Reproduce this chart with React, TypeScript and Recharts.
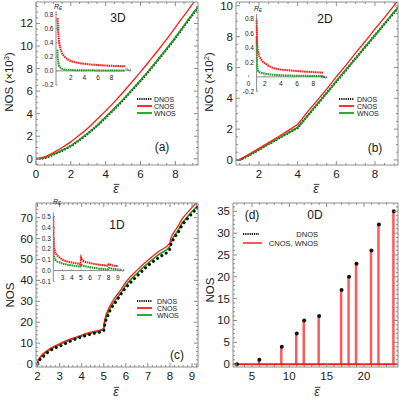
import React from "react";
import {
  ComposedChart,
  LineChart,
  Line,
  Bar,
  Scatter,
  XAxis,
  YAxis,
  ReferenceLine,
} from "recharts";

const FONT = "'Liberation Sans', Arial, Helvetica, sans-serif";
const FRAME = "#8c8c8c";
const INK = "#1a1a1a";
const RED = "#ff1a1a";
const GREEN = "#1e9e1e";
const STEM = "#ff5a5a";

// ---------- (a) 3D, NOS in units of 10^3 ----------
const eps3D = [0, 0.5, 1, 1.5, 2, 2.5, 3, 3.5, 4, 4.5, 5, 5.5, 6, 6.5, 7, 7.5, 8, 8.5, 9, 9.3];
const dnos3D = [0, 0.09, 0.38, 0.73, 1.13, 1.67, 2.27, 2.92, 3.66, 4.42, 5.21, 6.06, 6.91, 7.81, 8.76, 9.71, 10.71, 11.76, 12.81, 13.41];
const cnos3D = [0, 0.18, 0.55, 1.0, 1.5, 2.1, 2.75, 3.5, 4.25, 5.05, 5.9, 6.8, 7.7, 8.65, 9.6, 10.6, 11.65, 12.7, 13.75, 14.4];
const wnos3D = [0, 0.1, 0.4, 0.75, 1.15, 1.7, 2.3, 2.95, 3.7, 4.45, 5.25, 6.1, 6.95, 7.85, 8.8, 9.75, 10.75, 11.8, 12.85, 13.45];

// inset (a): relative error R_E
const epsR3D = [0.02, 0.05, 0.1, 0.2, 0.3, 0.5, 0.75, 1, 1.5, 2, 2.5, 3, 4, 5, 6, 7, 8, 9, 10];
const rc3D = [0.75, 0.7, 0.6, 0.46, 0.38, 0.3, 0.24, 0.205, 0.165, 0.14, 0.125, 0.115, 0.1, 0.09, 0.083, 0.077, 0.072, 0.068, 0.065];
const rw3D = [0.3, 0.2, 0.15, 0.09, 0.06, 0.04, 0.025, 0.02, 0.015, 0.012, 0.01, 0.01, 0.008, 0.008, 0.007, 0.006, 0.006, 0.005, 0.005];

// ---------- (b) 2D, NOS in units of 10^2 ----------
const eps2D = [0.81, 1, 1.25, 1.5, 2, 2.5, 3, 3.5, 4, 4.5, 5, 5.5, 6, 6.5, 7, 7.5, 8, 8.5, 9, 9.19];
const dnos2D = [0, 0, 0.14, 0.31, 0.67, 1.04, 1.39, 1.74, 2.09, 2.84, 3.59, 4.34, 5.09, 5.84, 6.59, 7.34, 8.09, 8.84, 9.59, 9.89];
const cnos2D = [0, 0.02, 0.2, 0.38, 0.75, 1.12, 1.5, 1.9, 2.3, 3.1, 3.85, 4.6, 5.4, 6.15, 6.95, 7.7, 8.5, 9.25, 10.05, 10.35];
const wnos2D = [0, 0, 0.15, 0.32, 0.68, 1.05, 1.4, 1.75, 2.1, 2.85, 3.6, 4.35, 5.1, 5.85, 6.6, 7.35, 8.1, 8.85, 9.6, 9.9];

// inset (b)
const epsR2D = [1, 1.03, 1.06, 1.1, 1.2, 1.35, 1.5, 1.75, 2, 2.5, 3, 3.5, 4, 4.5, 5, 6, 7, 8, 9, 9.2];
const rc2D = [0.78, 0.6, 0.48, 0.4, 0.33, 0.28, 0.25, 0.21, 0.19, 0.15, 0.125, 0.11, 0.1, 0.095, 0.09, 0.08, 0.072, 0.066, 0.06, 0.058];
const rw2D = [0.55, 0.3, 0.18, 0.12, 0.08, 0.065, 0.06, 0.05, 0.045, 0.035, 0.03, 0.025, 0.022, 0.02, 0.018, 0.016, 0.014, 0.012, 0.01, 0.01];

// ---------- (c) 1D ----------
const eps1D = [2, 2.02, 2.05, 2.1, 2.2, 2.35, 2.5, 2.75, 3, 3.5, 4, 4.5, 5, 5.02, 5.05, 5.1, 5.2, 5.35, 5.5, 5.75, 6, 6.5, 7, 7.5, 8, 8.02, 8.05, 8.1, 8.2, 8.35, 8.5, 8.75, 9, 9.27];
const dnos1D = [0, 0.4, 1, 2, 3, 4.5, 6, 7.5, 8.5, 11, 13, 14.5, 16, 17, 19, 21, 23.5, 27, 29, 33, 36.5, 42, 47, 51, 55, 56, 57.5, 58.5, 60.5, 62.5, 65.5, 69, 72, 75];
const cnos1D = [0, 1.4, 2.2, 3.1, 4.4, 5.8, 6.9, 8.5, 9.8, 12, 13.9, 15.5, 17, 19.7, 21.4, 23.4, 26.1, 29.2, 31.7, 35.2, 39.2, 44.8, 49.6, 53.9, 57.9, 59.4, 60.4, 61.6, 63.4, 65.6, 68.6, 71.9, 74.9, 77.9];
const wnos1D = [0, 0.9, 1.7, 2.6, 3.9, 5.3, 6.4, 8, 9.3, 11.5, 13.4, 15, 16.5, 18.6, 20.1, 22, 24.7, 27.8, 30.2, 33.7, 37.7, 43.3, 48.1, 52.4, 56.4, 57.6, 58.5, 59.6, 61.4, 63.6, 66.6, 69.9, 72.9, 75.9];

// inset (c)
const epsR1D = [2, 2.03, 2.06, 2.1, 2.2, 2.4, 2.7, 3, 3.5, 4, 4.5, 4.95, 5.02, 5.1, 5.25, 5.5, 6, 6.5, 7, 7.5, 7.95, 8.05, 8.3, 8.6, 9];
const rc1D = [0.5, 0.33, 0.26, 0.21, 0.17, 0.14, 0.12, 0.1, 0.085, 0.075, 0.067, 0.06, 0.12, 0.105, 0.09, 0.08, 0.07, 0.06, 0.055, 0.05, 0.045, 0.06, 0.05, 0.045, 0.042];
const rw1D = [0.2, 0.16, 0.14, 0.12, 0.1, 0.085, 0.075, 0.065, 0.055, 0.048, 0.042, 0.038, 0.055, 0.05, 0.045, 0.04, 0.032, 0.025, 0.018, 0.015, 0.012, 0.025, 0.02, 0.015, 0.012];

// ---------- (d) 0D ----------
const levels0D = [3, 6, 9, 11, 12, 14, 17, 18, 19, 21, 22, 24];
const nos0D = [0, 1, 4, 7, 10, 11, 17, 20, 23, 26, 32, 35];

// tick labels
const xMajor3D = [0, 2, 4, 6, 8];
const yMajor3D = [0, 2, 4, 6, 8, 10, 12];
const xMajor2D = [2, 4, 6, 8];
const yMajor2D = [0, 2, 4, 6, 8, 10];
const xMajor1D = [2, 3, 4, 5, 6, 7, 8, 9];
const yMajor1D = [0, 10, 20, 30, 40, 50, 60, 70];
const xMajor0D = [5, 10, 15, 20];
const yMajor0D = [0, 5, 10, 15, 20, 25, 30, 35];

const insetY3D = [0.8, 0.6, 0.4, 0.2, 0, -0.2];
const insetX3D = [2, 4, 6, 8];
const insetY2D = [0.8, 0.6, 0.4, 0.2, -0.2];
const insetX2D = [0, 2, 4, 6, 8];
const insetY1D = [0.5, 0.4, 0.3, 0.2, 0.1, 0, -0.1];
const insetX1D = [3, 4, 5, 6, 7, 8, 9];

type Row = Record<string, number>;

function table(xs: number[], series: Record<string, number[]>): Row[] {
  return xs.map((x, i) => {
    const r: Row = { x };
    Object.keys(series).forEach((k) => (r[k] = series[k][i]));
    return r;
  });
}

function steps(a: number, b: number, s: number) {
  const out: number[] = [];
  for (let v = a; v <= b + 1e-9; v += s) out.push(Math.round(v * 1000) / 1000);
  return out;
}

function allTicks(major: number[], step: number, dom: [number, number]) {
  const set = new Set([...major, ...steps(Math.ceil(dom[0] / step) * step, dom[1], step)]);
  return [...set].filter((v) => v >= dom[0] && v <= dom[1]).sort((a, b) => a - b);
}

const isIn = (list: number[], v: number) => list.some((m) => Math.abs(m - v) < 1e-6);

// axes are 1px wide/high (zero-sized axes are not drawn); tick coords sit on the frame
function frameTick(side: string, major: number[]) {
  return (props: any) => {
    const { x, y, payload } = props;
    const v = payload.value;
    const big = isIn(major, v);
    const len = big ? 4 : 2;
    let line = null;
    let label = null;
    if (side === "bottom") {
      line = <line x1={x} x2={x} y1={y} y2={y - len} stroke={FRAME} />;
      if (big)
        label = (
          <text x={x} y={y + 12.5} textAnchor="middle" fontSize={11.5} fill={INK} fontFamily={FONT}>
            {v}
          </text>
        );
    } else if (side === "top") {
      line = <line x1={x} x2={x} y1={y} y2={y + len} stroke={FRAME} />;
    } else if (side === "left") {
      line = <line x1={x} x2={x + len} y1={y} y2={y} stroke={FRAME} />;
      if (big)
        label = (
          <text x={x - 3} y={y + 4} textAnchor="end" fontSize={11.5} fill={INK} fontFamily={FONT}>
            {v}
          </text>
        );
    } else {
      line = <line x1={x} x2={x - len} y1={y} y2={y} stroke={FRAME} />;
    }
    return (
      <g>
        {line}
        {label}
      </g>
    );
  };
}

interface Box {
  top: number;
  right: number;
  bottom: number;
  left: number;
}

// plot box given as distances from the chart edges; 1px goes to each axis
const shrink = (m: Box): Box => ({ top: m.top - 1, right: m.right - 1, bottom: m.bottom - 1, left: m.left - 1 });

interface FrameProps {
  left: number;
  top: number;
  plot: Box;
  data: Row[];
  xDomain: [number, number];
  yDomain: [number, number];
  xMajor: number[];
  xStep: number;
  yMajor: number[];
  yStep: number;
  children?: React.ReactNode;
}

function FramePanel(p: FrameProps) {
  const xt = allTicks(p.xMajor, p.xStep, p.xDomain);
  const yt = allTicks(p.yMajor, p.yStep, p.yDomain);
  const common = { type: "number" as const, allowDataOverflow: true, interval: 0 as const, tickSize: 0, tickMargin: 0, tickLine: false, axisLine: { stroke: FRAME } };
  return (
    <div style={{ position: "absolute", left: p.left, top: p.top }}>
      <ComposedChart width={199} height={199} data={p.data} margin={shrink(p.plot)}>
        <XAxis {...common} xAxisId="b" dataKey="x" domain={p.xDomain} ticks={xt} height={1} tick={frameTick("bottom", p.xMajor)} />
        <XAxis {...common} xAxisId="t" orientation="top" dataKey="x" domain={p.xDomain} ticks={xt} height={1} tick={frameTick("top", p.xMajor)} />
        <YAxis {...common} yAxisId="l" domain={p.yDomain} ticks={yt} width={1} tick={frameTick("left", p.yMajor)} />
        <YAxis {...common} yAxisId="r" orientation="right" domain={p.yDomain} ticks={yt} width={1} tick={frameTick("right", p.yMajor)} />
        {p.children}
      </ComposedChart>
    </div>
  );
}

interface InsetProps {
  left: number;
  top: number;
  width: number;
  height: number;
  plot: Box;
  data: Row[];
  xDomain: [number, number];
  yDomain: [number, number];
  x0: number;
  xTicks: number[];
  yTicks: number[];
}

function Inset(p: InsetProps) {
  const pw = p.width - p.plot.left - p.plot.right;
  const ph = p.height - p.plot.top - p.plot.bottom;
  const zeroUp = (ph * (0 - p.yDomain[0])) / (p.yDomain[1] - p.yDomain[0]);
  const axisRight = (pw * (p.x0 - p.xDomain[0])) / (p.xDomain[1] - p.xDomain[0]);
  const xTick = (props: any) => {
    const { x, y, payload } = props;
    const zy = y - zeroUp;
    return (
      <g>
        <line x1={x} x2={x} y1={zy} y2={zy - 1.5} stroke={FRAME} />
        <text x={x} y={zy + 9} textAnchor="middle" fontSize={6.5} fill={INK} fontFamily={FONT}>
          {payload.value}
        </text>
      </g>
    );
  };
  const yTick = (props: any) => {
    const { x, y, payload } = props;
    const ax = x + axisRight;
    return (
      <g>
        <line x1={ax} x2={ax + 1.5} y1={y} y2={y} stroke={FRAME} />
        <text x={ax - 2.5} y={y + 2.3} textAnchor="end" fontSize={6.5} fill={INK} fontFamily={FONT}>
          {payload.value.toFixed(1)}
        </text>
      </g>
    );
  };
  return (
    <div style={{ position: "absolute", left: p.left, top: p.top }}>
      <LineChart width={p.width} height={p.height} data={p.data} margin={shrink(p.plot)}>
        <XAxis type="number" dataKey="x" domain={p.xDomain} allowDataOverflow ticks={p.xTicks} interval={0} height={1} tickSize={0} tickMargin={0} tickLine={false} axisLine={false} tick={xTick} />
        <YAxis type="number" domain={p.yDomain} allowDataOverflow ticks={p.yTicks} interval={0} width={1} tickSize={0} tickMargin={0} tickLine={false} axisLine={false} tick={yTick} />
        <ReferenceLine segment={[{ x: p.x0, y: 0 }, { x: p.xDomain[1], y: 0 }]} stroke={FRAME} />
        <ReferenceLine x={p.x0} stroke={FRAME} />
        <Line dataKey="rw" stroke={GREEN} strokeWidth={2} strokeDasharray="1.6 0.6" dot={false} type="linear" isAnimationActive={false} />
        <Line dataKey="rc" stroke={RED} strokeWidth={2} strokeDasharray="1.6 0.6" dot={false} type="linear" isAnimationActive={false} />
      </LineChart>
    </div>
  );
}

const ax = { xAxisId: "b", yAxisId: "l" };

function Overlay() {
  const t = { fontFamily: FONT, fill: INK };
  const legend = (x: number, y: number, textX: number) => (
    <g>
      <line x1={x} x2={x + 15} y1={y} y2={y} stroke="#111" strokeWidth={2} strokeDasharray="1.2 1" />
      <line x1={x} x2={x + 15} y1={y + 7} y2={y + 7} stroke={RED} strokeWidth={1.8} />
      <line x1={x} x2={x + 15} y1={y + 14} y2={y + 14} stroke={GREEN} strokeWidth={1.8} />
      <text x={textX} y={y + 2.6} fontSize={7} {...t}>DNOS</text>
      <text x={textX} y={y + 9.6} fontSize={7} {...t}>CNOS</text>
      <text x={textX} y={y + 16.6} fontSize={7} {...t}>WNOS</text>
    </g>
  );
  // italic epsilon with a bar over it
  const eps = (x: number, y: number, size: number, rot = 0) => (
    <g transform={`translate(${x},${y}) rotate(${rot})`}>
      <text x={0} y={0} fontSize={size} fontStyle="italic" textAnchor="middle" {...t}>
        ε
      </text>
      <line x1={-size * 0.18} x2={size * 0.28} y1={-size * 0.72} y2={-size * 0.72} stroke={INK} strokeWidth={size * 0.07} />
    </g>
  );
  const re = (x: number, y: number) => (
    <text x={x} y={y} fontSize={7} fontStyle="italic" {...t}>
      R<tspan fontSize={4.5} dy={1.2}>E</tspan>
    </text>
  );
  return (
    <svg width={399} height={399} style={{ position: "absolute", left: 0, top: 0, pointerEvents: "none" }}>
      {/* axis titles */}
      <text transform="translate(13,82) rotate(-90)" textAnchor="middle" fontSize={11.5} {...t}>
        NOS (×10<tspan fontSize={7.5} dy={-4.5}>3</tspan>
        <tspan dy={4.5}>)</tspan>
      </text>
      <text transform="translate(213,82) rotate(-90)" textAnchor="middle" fontSize={11.5} {...t}>
        NOS (×10<tspan fontSize={7.5} dy={-4.5}>2</tspan>
        <tspan dy={4.5}>)</tspan>
      </text>
      <text transform="translate(14,295) rotate(-90)" textAnchor="middle" fontSize={11.5} {...t}>NOS</text>
      <text transform="translate(214,290) rotate(-90)" textAnchor="middle" fontSize={11.5} {...t}>NOS</text>
      {eps(116, 193, 12)}
      {eps(316, 193, 12)}
      {eps(116, 396, 12)}
      {eps(317, 396, 12)}
      {/* panel tags */}
      <text x={118} y={22} fontSize={12} textAnchor="middle" {...t}>3D</text>
      <text x={325} y={23} fontSize={12} textAnchor="middle" {...t}>2D</text>
      <text x={117} y={229} fontSize={12} textAnchor="middle" {...t}>1D</text>
      <text x={315} y={219} fontSize={12} textAnchor="middle" {...t}>0D</text>
      <text x={162} y={151} fontSize={12} textAnchor="middle" {...t}>(a)</text>
      <text x={375} y={152} fontSize={12} textAnchor="middle" {...t}>(b)</text>
      <text x={177} y={359} fontSize={12} textAnchor="middle" {...t}>(c)</text>
      <text x={252} y={219} fontSize={12} textAnchor="middle" {...t}>(d)</text>
      {/* legends */}
      {legend(137, 99, 154)}
      {legend(339, 99, 357)}
      {legend(137, 301, 157)}
      <line x1={243} x2={259} y1={234} y2={234} stroke="#111" strokeWidth={2} strokeDasharray="1.2 1" />
      <line x1={243} x2={262} y1={243} y2={243} stroke={STEM} strokeWidth={2} />
      <text x={318} y={236.5} fontSize={7.5} textAnchor="end" {...t}>DNOS</text>
      <text x={318} y={245.5} fontSize={7.5} textAnchor="end" {...t}>CNOS, WNOS</text>
      {/* inset labels */}
      {re(54, 8.5)}
      {re(254, 11)}
      {re(53, 204)}
      {eps(131, 70, 7, -90)}
      {eps(327, 77, 7, -90)}
      {eps(124, 270, 7, -90)}
    </svg>
  );
}

export default function App() {
  const d3 = table(eps3D, { d: dnos3D, c: cnos3D, w: wnos3D });
  const d2 = table(eps2D, { d: dnos2D, c: cnos2D, w: wnos2D });
  const d1 = table(eps1D, { d: dnos1D, c: cnos1D, w: wnos1D });
  const d0 = table(levels0D, { n: nos0D });
  const r3 = table(epsR3D, { rc: rc3D, rw: rw3D });
  const r2 = table(epsR2D, { rc: rc2D, rw: rw2D });
  const r1 = table(epsR1D, { rc: rc1D, rw: rw1D });

  return (
    <div style={{ position: "absolute", left: 0, top: 0, width: 399, height: 399, background: "#fff", fontFamily: FONT }}>
      <FramePanel left={0} top={0} plot={{ top: 2, right: 1, bottom: 34, left: 36 }} data={d3} xDomain={[0, 9.3]} yDomain={[-0.55, 13.9]} xMajor={xMajor3D} xStep={0.5} yMajor={yMajor3D} yStep={0.5}>
        <Line {...ax} dataKey="d" stroke="#111" strokeWidth={2.4} strokeDasharray="1.5 1.5" dot={false} type="monotone" isAnimationActive={false} />
        <Line {...ax} dataKey="w" stroke={GREEN} strokeWidth={1.6} dot={false} type="monotone" isAnimationActive={false} />
        <Line {...ax} dataKey="c" stroke={RED} strokeWidth={1.3} dot={false} type="monotone" isAnimationActive={false} />
      </FramePanel>
      <FramePanel left={200} top={0} plot={{ top: 2, right: 1, bottom: 34, left: 36 }} data={d2} xDomain={[0.81, 9.19]} yDomain={[-0.33, 10.25]} xMajor={xMajor2D} xStep={0.5} yMajor={yMajor2D} yStep={0.5}>
        <Line {...ax} dataKey="d" stroke="#111" strokeWidth={2.4} strokeDasharray="1.5 1.5" dot={false} type="linear" isAnimationActive={false} />
        <Line {...ax} dataKey="w" stroke={GREEN} strokeWidth={1.6} dot={false} type="linear" isAnimationActive={false} />
        <Line {...ax} dataKey="c" stroke={RED} strokeWidth={1.3} dot={false} type="linear" isAnimationActive={false} />
      </FramePanel>
      <FramePanel left={0} top={200} plot={{ top: 3, right: 1, bottom: 32, left: 36 }} data={d1} xDomain={[1.93, 9.27]} yDomain={[-1.4, 77]} xMajor={xMajor1D} xStep={0.2} yMajor={yMajor1D} yStep={2}>
        <Line {...ax} dataKey="w" stroke={GREEN} strokeWidth={1.6} dot={false} type="monotone" isAnimationActive={false} />
        <Line {...ax} dataKey="c" stroke={RED} strokeWidth={1.3} dot={false} type="monotone" isAnimationActive={false} />
        <Line {...ax} dataKey="d" stroke="#111" strokeWidth={3} strokeDasharray="0.1 5" strokeLinecap="round" dot={false} type="monotone" isAnimationActive={false} />
      </FramePanel>
      <FramePanel left={200} top={200} plot={{ top: 3, right: 1, bottom: 32, left: 33 }} data={d0} xDomain={[2.47, 24.55]} yDomain={[-0.65, 36.9]} xMajor={xMajor0D} xStep={1} yMajor={yMajor0D} yStep={1}>
        <ReferenceLine {...ax} y={0} stroke={RED} strokeWidth={2} />
        <Bar {...ax} dataKey="n" fill={STEM} barSize={2.5} isAnimationActive={false} />
        <Scatter {...ax} dataKey="n" fill="#111" isAnimationActive={false} shape={(s: any) => <circle cx={s.cx} cy={s.cy} r={2} fill="#111" />} />
      </FramePanel>
      <Inset left={40} top={0} width={100} height={95} plot={{ top: 12, right: 16, bottom: 10, left: 16 }} data={r3} xDomain={[-0.2, 10]} yDomain={[-0.2, 0.85]} x0={-0.2} xTicks={insetX3D} yTicks={insetY3D} />
      <Inset left={235} top={0} width={100} height={100} plot={{ top: 15, right: 10.5, bottom: 8.7, left: 13.5 }} data={r2} xDomain={[0, 9.5]} yDomain={[-0.2, 0.87]} x0={1} xTicks={insetX2D} yTicks={insetY2D} />
      <Inset left={40} top={200} width={90} height={90} plot={{ top: 13.3, right: 10.5, bottom: 8.6, left: 13.3 }} data={r1} xDomain={[2, 9.3]} yDomain={[-0.1, 0.54]} x0={2} xTicks={insetX1D} yTicks={insetY1D} />
      <Overlay />
    </div>
  );
}
